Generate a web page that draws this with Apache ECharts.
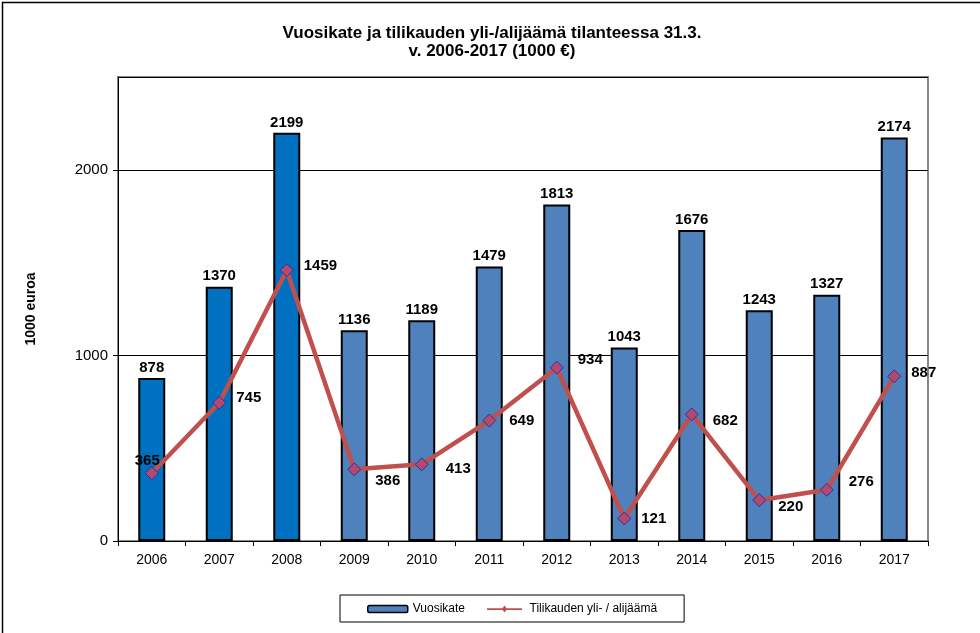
<!DOCTYPE html>
<html>
<head>
<meta charset="utf-8">
<script src="https://cdn.jsdelivr.net/npm/echarts@6/dist/echarts.min.js"></script>
<style>
html, body { margin: 0; padding: 0; background: #fff; }
#chart-container { width: 980px; height: 633px; }
</style>
</head>
<body>
<div id="chart-container"></div>
<script>
// Data
var years = ['2006', '2007', '2008', '2009', '2010', '2011', '2012', '2013', '2014', '2015', '2016', '2017'];
var vuosikate = [878, 1370, 2199, 1136, 1189, 1479, 1813, 1043, 1676, 1243, 1327, 2174];
var ylijaama = [365, 745, 1459, 386, 413, 649, 934, 121, 682, 220, 276, 887];
var darkYears = ['2006', '2007', '2008'];
// label offsets for the line values, [dx, dy]
var lineLabelOffsets = [[-34, -12], [0, -5], [0, -4], [4, 12], [7, 5], [3, 0], [4, -8], [0, 0], [4, 6], [2, 7], [5, -8], [0, -4]];

var dom = document.getElementById('chart-container');
var myChart = echarts.init(dom, null, { renderer: 'canvas' });

var barData = vuosikate.map(function (v, i) {
	return {
		value: v,
		itemStyle: { color: darkYears.indexOf(years[i]) >= 0 ? '#0070C0' : '#4F81BD' }
	};
});

var lineData = ylijaama.map(function (v, i) {
	return {
		value: v,
		label: { offset: lineLabelOffsets[i] }
	};
});

var option = {
	animation: false,
	textStyle: {
		fontFamily: 'Arial, "Liberation Sans", sans-serif',
		color: '#000'
	},
	title: {
		text: 'Vuosikate ja tilikauden yli-/alijäämä tilanteessa 31.3.\nv. 2006-2017 (1000 €)',
		left: 487,
		textAlign: 'center',
		top: 19,
		textStyle: {
			fontSize: 17,
			fontWeight: 'bold',
			lineHeight: 18,
			fontFamily: '"Liberation Sans Narrow", Arial, sans-serif',
			color: '#000'
		}
	},
	legend: {
		bottom: 11,
		left: 340,
		padding: [8, 27, 7, 27],
		itemGap: 22,
		borderColor: '#000',
		borderWidth: 1,
		itemWidth: 40,
		itemHeight: 7,
		textStyle: { fontSize: 12, color: '#000' },
		data: [
			{ name: 'Vuosikate', itemStyle: { color: '#4F81BD', borderColor: '#000', borderWidth: 1.5 } },
			{
				name: 'Tilikauden yli- / alijäämä',
				icon: 'path://M0,4 L40,4 L40,6 L0,6 Z M20,1 L23,5 L20,9 L17,5 Z',
				itemStyle: { color: '#C0504D', borderWidth: 0 }
			}
		]
	},
	grid: {
		left: 118,
		right: 52,
		top: 77,
		bottom: 92,
		show: true,
		borderColor: '#888',
		borderWidth: 2
	},
	xAxis: {
		type: 'category',
		data: years,
		axisLine: { lineStyle: { color: '#000', width: 1 } },
		axisTick: { show: true, length: 5, lineStyle: { color: '#000' } },
		axisLabel: { fontSize: 14, color: '#000', margin: 12 }
	},
	yAxis: {
		type: 'value',
		min: 0,
		max: 2500,
		interval: 1000,
		name: '1000 euroa',
		nameLocation: 'middle',
		nameGap: 80,
		nameTextStyle: { fontSize: 14, fontWeight: 'bold', color: '#000' },
		axisLine: { show: true, lineStyle: { color: '#000', width: 1 } },
		axisTick: { show: true, length: 5, lineStyle: { color: '#000' } },
		axisLabel: {
			fontSize: 15,
			color: '#000',
			margin: 10,
			showMaxLabel: false,
			formatter: function (v) { return v >= 2500 ? '' : String(v); }
		},
		splitLine: { show: true, lineStyle: { color: '#000', width: 1 } }
	},
	series: [
		{
			name: 'Vuosikate',
			type: 'bar',
			barWidth: '40%',
			itemStyle: { borderColor: '#000', borderWidth: 2 },
			label: {
				show: true,
				position: 'top',
				distance: 3,
				fontSize: 15,
				fontWeight: 'bold',
				color: '#000'
			},
			data: barData
		},
		{
			name: 'Tilikauden yli- / alijäämä',
			type: 'line',
			symbol: 'diamond',
			symbolSize: 13,
			itemStyle: { color: '#B04A6E', borderColor: '#3030A0', borderWidth: 1 },
			lineStyle: { color: '#C0504D', width: 4.5 },
			label: {
				show: true,
				position: 'right',
				distance: 10,
				fontSize: 15,
				fontWeight: 'bold',
				color: '#000'
			},
			z: 5,
			data: lineData
		}
	],
	graphic: [
		{
			type: 'rect',
			left: 0,
			top: 0,
			shape: { width: 979, height: 632 },
			style: { fill: 'none', stroke: '#000', lineWidth: 1.5 },
			silent: true
		}
	]
};

myChart.setOption(option);
window.addEventListener('resize', myChart.resize);
</script>
</body>
</html>
